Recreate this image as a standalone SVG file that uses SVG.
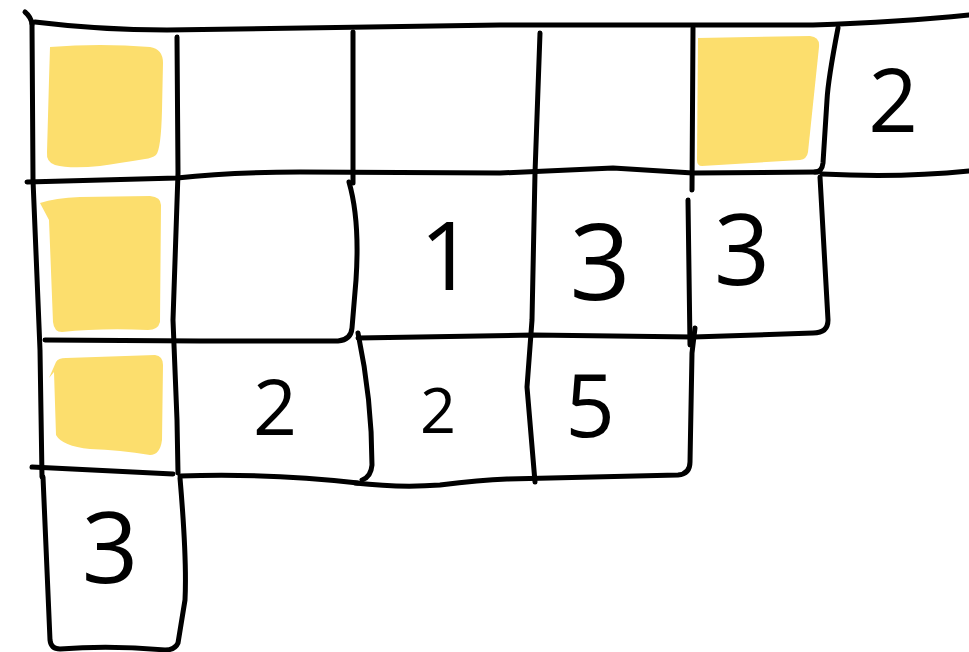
<svg xmlns="http://www.w3.org/2000/svg" width="969" height="652" viewBox="0 0 969 652">
  <style>
    .ln { fill: none; stroke: #000; stroke-width: 5; stroke-linecap: round; stroke-linejoin: round; }
    .hl { fill: #fcde6d; stroke: none; }
    .dg { font-family: "Open Sans", "Liberation Sans", sans-serif; font-weight: 400; fill: #000; text-anchor: middle; }
  </style>
  <rect width="969" height="652" fill="#fff"/>
  <g id="highlights">
    <path id="hl-r1c1" class="hl" d="M50,47 Q100,43 150,47 Q163,49 163,63 L162,110 Q161,150 156,155 Q152,158 145,159 Q120,163 100,166 Q70,169 55,165 Q46,162 47,152 L49,80 Z"/>
    <path id="hl-r2c1" class="hl" d="M40,203 Q55,198 80,197 L150,196 Q161,197 161,205 L160,322 Q158,330 148,330 Q100,328 62,332 Q54,332 53,322 L49,220 Z"/>
    <path id="hl-r3c1" class="hl" d="M49,378 L56,362 Q58,358 66,358 L155,355 Q163,356 163,365 L162,440 Q160,455 150,455 Q120,450 90,449 Q62,446 56,435 L54,372 Z"/>
    <path id="hl-r1c5" class="hl" d="M698,38 L810,36 Q820,37 819,47 L808,152 Q807,159 800,160 L702,166 Q697,166 697,160 Z"/>
  </g>
  <g id="grid">
    <path class="ln" d="M25,12 Q31,17 32,24"/>
    <path class="ln" d="M35,22 Q100,30 167,30 L500,25 L813,25 Q900,22 969,15"/>
    <path class="ln" d="M32,23 L33,180 L40,350 L42,477"/>
    <path class="ln" d="M177,37 L178,173 L173,320 L177,420 L178,473"/>
    <path class="ln" d="M353,32 L353,183"/>
    <path class="ln" d="M45,340 L200,341 L338,341 Q351,340 352,328 L356,280 Q360,220 349,182"/>
    <path class="ln" d="M358,333 Q372,400 372,465 Q371,477 362,480"/>
    <path class="ln" d="M355,483 Q400,488 440,485 Q480,480 507,479 L678,475 Q690,474 690,462 L692,353 L695,328"/>
    <path class="ln" d="M32,467 L173,474"/>
    <path class="ln" d="M180,476 Q270,473 358,483"/>
    <path class="ln" d="M27,182 L177,178 Q230,172 300,172 L500,173 L613,168 L693,173 L818,172"/>
    <path class="ln" d="M822,174 Q900,178 969,171"/>
    <path class="ln" d="M540,33 L535,173 L532,320 L527,387 L535,482"/>
    <path class="ln" d="M693,28 L692,190"/>
    <path class="ln" d="M688,200 L690,345"/>
    <path class="ln" d="M838,28 Q828,80 827,100 L823,163 Q822,172 815,172"/>
    <path class="ln" d="M820,177 L828,320 Q828,333 813,333 L693,337 L533,335 L358,338"/>
    <path class="ln" d="M180,478 Q187,560 185,600 L178,643 Q175,650 165,650 Q110,645 60,649 Q51,649 50,640 L43,477"/>
  </g>
  <g id="labels">
    <text id="t-r1c6" class="dg" x="893" y="132" font-size="87">2</text>
    <text id="t-r2c3" class="dg" x="447" y="290" font-size="95">1</text>
    <text id="t-r2c4" class="dg" x="600" y="300" font-size="107">3</text>
    <text id="t-r2c5" class="dg" x="742" y="285" font-size="98">3</text>
    <text id="t-r3c2" class="dg" x="275" y="435" font-size="77">2</text>
    <text id="t-r3c3" class="dg" x="438" y="433" font-size="63">2</text>
    <text id="t-r3c4" class="dg" x="590" y="437" font-size="87">5</text>
    <text id="t-r4c1" class="dg" x="110" y="583" font-size="99">3</text>
  </g>
</svg>
